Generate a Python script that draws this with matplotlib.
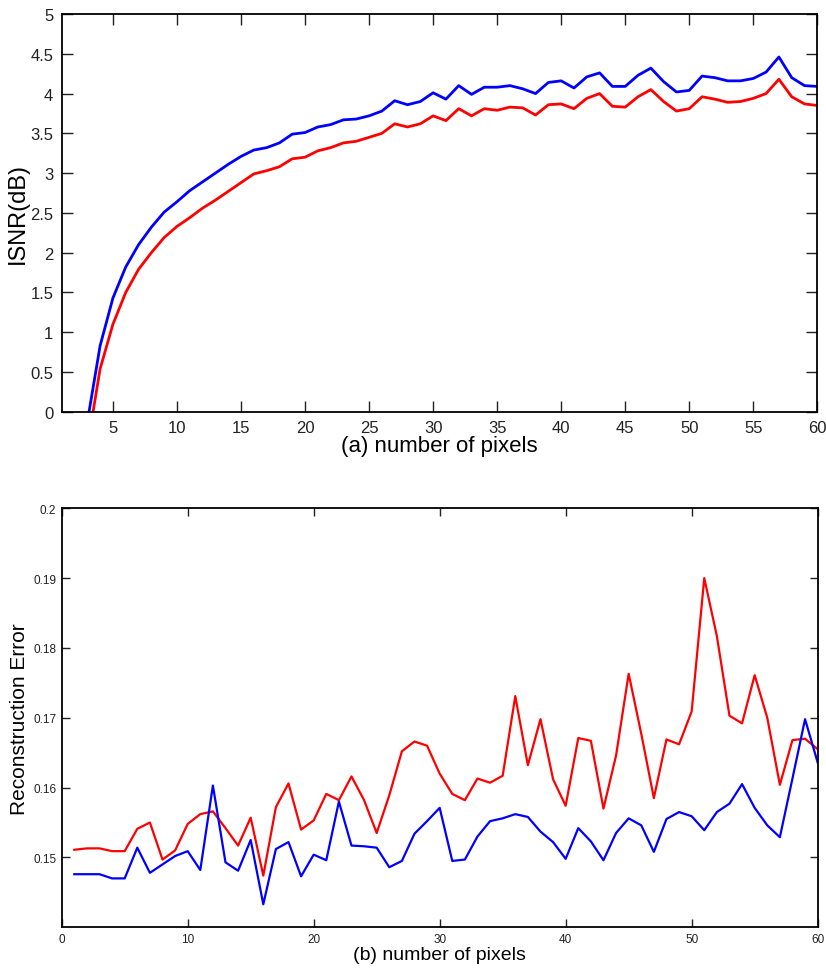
import matplotlib
matplotlib.use("Agg")
import matplotlib.pyplot as plt
import numpy as np

plt.rcParams['font.family'] = ['Liberation Sans', 'DejaVu Sans']

# ---- Panel (a): ISNR vs number of pixels ----
x_a = list(range(3, 61))
isnr_blue = [-0.13, 0.83, 1.43, 1.82, 2.10, 2.32, 2.51, 2.64, 2.78, 2.89,
             3.00, 3.11, 3.21, 3.29, 3.32, 3.38, 3.49, 3.51, 3.58, 3.61,
             3.67, 3.68, 3.72, 3.78, 3.91, 3.86, 3.90, 4.01, 3.93, 4.10,
             3.99, 4.08, 4.08, 4.10, 4.06, 4.00, 4.14, 4.16, 4.07, 4.21,
             4.26, 4.09, 4.09, 4.23, 4.32, 4.15, 4.02, 4.04, 4.22, 4.20,
             4.16, 4.16, 4.19, 4.27, 4.46, 4.20, 4.10, 4.09]
isnr_red = [-0.44, 0.54, 1.10, 1.50, 1.79, 2.00, 2.19, 2.33, 2.44, 2.56,
            2.66, 2.77, 2.88, 2.99, 3.03, 3.08, 3.18, 3.20, 3.28, 3.32,
            3.38, 3.40, 3.45, 3.50, 3.62, 3.58, 3.62, 3.72, 3.66, 3.81,
            3.72, 3.81, 3.79, 3.83, 3.82, 3.73, 3.86, 3.87, 3.81, 3.94,
            4.00, 3.84, 3.83, 3.96, 4.05, 3.90, 3.78, 3.81, 3.96, 3.93,
            3.89, 3.90, 3.94, 4.00, 4.18, 3.96, 3.87, 3.85]
xticks_a = [5, 10, 15, 20, 25, 30, 35, 40, 45, 50, 55, 60]
yticks_a = [0, 0.5, 1, 1.5, 2, 2.5, 3, 3.5, 4, 4.5, 5]
yticklabels_a = ['0', '0.5', '1', '1.5', '2', '2.5', '3', '3.5', '4', '4.5', '5']

# ---- Panel (b): Reconstruction error vs number of pixels ----
x_b = list(range(1, 61))
err_red = [0.1511, 0.1513, 0.1513, 0.1509, 0.1509, 0.1541, 0.1550, 0.1497, 0.1510, 0.1548,
           0.1562, 0.1566, 0.1542, 0.1517, 0.1557, 0.1474, 0.1572, 0.1606, 0.1540, 0.1553,
           0.1591, 0.1582, 0.1616, 0.1582, 0.1535, 0.1589, 0.1652, 0.1666, 0.1660, 0.1620,
           0.1591, 0.1582, 0.1613, 0.1607, 0.1617, 0.1731, 0.1632, 0.1698, 0.1612, 0.1574,
           0.1671, 0.1667, 0.1570, 0.1646, 0.1763, 0.1677, 0.1585, 0.1669, 0.1662, 0.1709,
           0.1900, 0.1817, 0.1703, 0.1692, 0.1761, 0.1700, 0.1604, 0.1668, 0.1670, 0.1655]
err_blue = [0.1476, 0.1476, 0.1476, 0.1470, 0.1470, 0.1514, 0.1478, 0.1490, 0.1502, 0.1509,
            0.1482, 0.1603, 0.1493, 0.1481, 0.1525, 0.1433, 0.1512, 0.1522, 0.1473, 0.1504,
            0.1496, 0.1580, 0.1517, 0.1516, 0.1514, 0.1486, 0.1495, 0.1534, 0.1552, 0.1571,
            0.1495, 0.1497, 0.1530, 0.1552, 0.1556, 0.1562, 0.1558, 0.1537, 0.1522, 0.1498,
            0.1542, 0.1523, 0.1496, 0.1535, 0.1556, 0.1546, 0.1508, 0.1555, 0.1565, 0.1559,
            0.1539, 0.1565, 0.1577, 0.1605, 0.1571, 0.1546, 0.1529, 0.1613, 0.1698, 0.1636]
xticks_b = [0, 10, 20, 30, 40, 50, 60]
yticks_b = [0.15, 0.16, 0.17, 0.18, 0.19, 0.2]
yticklabels_b = ['0.15', '0.16', '0.17', '0.18', '0.19', '0.2']

fig = plt.figure(figsize=(8.26, 9.70), dpi=100)

ax1 = fig.add_axes([0.0747, 0.5745, 0.9148, 0.4100])
ax1.plot(x_a, isnr_blue, color='#0000ff', lw=2.0)
ax1.plot(x_a, isnr_red, color='#ff0000', lw=2.0)
ax1.set_xlim(1, 60)
ax1.set_ylim(0, 5)
ax1.set_xticks(xticks_a)
ax1.set_yticks(yticks_a)
ax1.set_yticklabels(yticklabels_a)
ax1.tick_params(direction='in', length=8, width=1.0, top=True, right=True,
                labelsize=12, pad=6, colors='#222222')
ax1.set_xlabel('(a) number of pixels', fontsize=16, labelpad=0)
ax1.set_ylabel('ISNR(dB)', fontsize=17, labelpad=1)
for s in ax1.spines.values():
    s.set_linewidth(1.3)

ax2 = fig.add_axes([0.0747, 0.0430, 0.9152, 0.4320])
ax2.plot(x_b, err_red, color='#ff0000', lw=1.6)
ax2.plot(x_b, err_blue, color='#0000ff', lw=1.6)
ax2.set_xlim(0, 60)
ax2.set_ylim(0.14, 0.2)
ax2.set_xticks(xticks_b)
ax2.set_yticks(yticks_b)
ax2.set_yticklabels(yticklabels_b)
ax2.tick_params(direction='in', length=6, width=1.0, top=True, right=True,
                labelsize=8.5, pad=4, colors='#222222')
ax2.set_xlabel('(b) number of pixels', fontsize=14, labelpad=1)
ax2.set_ylabel('Reconstruction Error', fontsize=15, labelpad=3)
for s in ax2.spines.values():
    s.set_linewidth(1.3)

fig.savefig('out.png', dpi=100)
